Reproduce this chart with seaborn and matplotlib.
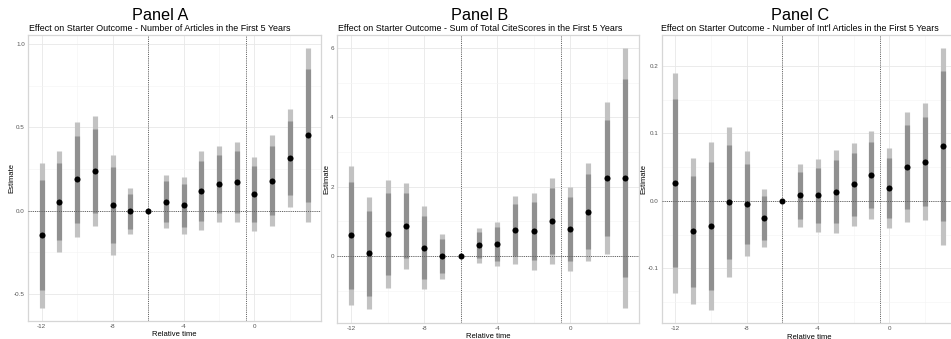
import numpy as np
import pandas as pd
import matplotlib
matplotlib.use("Agg")
import matplotlib.pyplot as plt
from matplotlib.ticker import FixedLocator, FormatStrFormatter
import seaborn as sns

# Event-study estimates by year relative to the event (reference year -6)
relative_time = [-12, -11, -10, -9, -8, -7, -6, -5, -4, -3, -2, -1, 0, 1, 2, 3]
x_ticks = [-12, -8, -4, 0]

est_articles = [-0.148, 0.054, 0.188, 0.238, 0.035, -0.003, 0.0, 0.055,
                0.032, 0.120, 0.160, 0.172, 0.100, 0.181, 0.315, 0.453]
se_articles = [0.168, 0.118, 0.134, 0.129, 0.116, 0.054, 0.0, 0.062,
               0.066, 0.092, 0.089, 0.094, 0.087, 0.106, 0.114, 0.203]

est_citescores = [0.595, 0.080, 0.640, 0.877, 0.245, -0.010, 0.0, 0.310,
                  0.350, 0.758, 0.710, 1.012, 0.772, 1.276, 2.260, 2.257]
se_citescores = [0.783, 0.628, 0.608, 0.481, 0.462, 0.250, 0.0, 0.193,
                 0.249, 0.383, 0.427, 0.482, 0.469, 0.550, 0.851, 1.458]

est_intl = [0.0265, -0.0448, -0.0370, -0.0016, -0.0046, -0.0258, 0.0, 0.0080,
            0.0080, 0.0138, 0.0245, 0.0386, 0.0190, 0.0500, 0.0580, 0.0810]
se_intl = [0.0633, 0.0420, 0.0484, 0.0430, 0.0302, 0.0168, 0.0, 0.0180,
           0.0210, 0.0238, 0.0239, 0.0252, 0.0230, 0.0316, 0.0337, 0.0566]

panel_titles = ["Panel A", "Panel B", "Panel C"]
panel_subtitles = [
    "Effect on Starter Outcome - Number of Articles in the First 5 Years",
    "Effect on Starter Outcome - Sum of Total CiteScores in the First 5 Years",
    "Effect on Starter Outcome - Number of Int'l Articles in the First 5 Years",
]
y_major = [[-0.5, 0.0, 0.5, 1.0], [0, 2, 4, 6], [-0.1, 0.0, 0.1, 0.2]]
y_minor = [[-0.25, 0.25, 0.75], [-1, 1, 3, 5], [-0.15, -0.05, 0.05, 0.15]]
y_fmt = ["%.1f", "%d", "%.1f"]

Z95, Z99 = 1.96, 2.576

W, H = 951, 339
sns.set_theme(style="white")
plt.rcParams["font.family"] = ["Liberation Sans", "DejaVu Sans"]
plt.rcParams["axes.unicode_minus"] = False

fig = plt.figure(figsize=(W / 100, H / 100), dpi=100)

# panel boxes in pixels: left, right, top, bottom
boxes = [(28.3, 321.0, 35.0, 320.5), (337.3, 638.7, 34.5, 322.5), (662.0, 956.0, 34.8, 323.0)]
title_x = [160, 480, 800]
ylabel_x = [11.5, 327, 644]

series = [(est_articles, se_articles), (est_citescores, se_citescores), (est_intl, se_intl)]

for i, ((est, se), (l, r, t, b)) in enumerate(zip(series, boxes)):
    ax = fig.add_axes([l / W, 1 - b / H, (r - l) / W, (b - t) / H])
    df = pd.DataFrame({"time": relative_time, "est": est, "se": se})
    df["lo95"] = df.est - Z95 * df.se
    df["hi95"] = df.est + Z95 * df.se
    df["lo99"] = df.est - Z99 * df.se
    df["hi99"] = df.est + Z99 * df.se
    bars = df[df.se > 0]

    ax.vlines(bars.time, bars.lo99, bars.hi99, color="#c2c2c2", lw=3.7, zorder=2)
    ax.vlines(bars.time, bars.lo95, bars.hi95, color="#909090", lw=3.7, zorder=3)
    ax.axhline(0, color="#5a5a5a", lw=0.65, ls=(0, (1.2, 1.2)), zorder=4)
    for xv in (-6, -0.5):
        ax.axvline(xv, color="#5a5a5a", lw=0.65, ls=(0, (1.2, 1.2)), zorder=4)
    sns.scatterplot(data=df, x="time", y="est", ax=ax, color="black", s=19,
                    linewidth=0, zorder=5, legend=False)

    lo, hi = df.lo99.min(), df.hi99.max()
    pad = 0.05 * (hi - lo)
    ax.set_ylim(lo - pad, hi + pad)
    ax.set_xlim(-12.75, 3.75)

    ax.xaxis.set_major_locator(FixedLocator(x_ticks))
    ax.xaxis.set_minor_locator(FixedLocator([-10, -6, -2, 2]))
    ax.yaxis.set_major_locator(FixedLocator(y_major[i]))
    ax.yaxis.set_minor_locator(FixedLocator(y_minor[i]))
    ax.yaxis.set_major_formatter(FormatStrFormatter(y_fmt[i]))
    ax.grid(which="major", color="#e8e8e8", lw=0.6, zorder=0)
    ax.grid(which="minor", color="#f4f4f4", lw=0.4, zorder=0)
    ax.set_axisbelow(True)
    ax.tick_params(which="both", length=0, labelsize=4.5, labelcolor="#555555", pad=2.5)
    for sp in ax.spines.values():
        sp.set_visible(True)
        sp.set_color("#d6d6d6")
        sp.set_linewidth(0.9)

    ax.set_xlabel("Relative time", fontsize=5.5, labelpad=1.5, color="black")
    ax.set_ylabel("")
    fig.text(ylabel_x[i] / W, 1 - ((t + b) / 2) / H, "Estimate", rotation=90,
             ha="center", va="center", fontsize=5.5, color="black")
    fig.text(title_x[i] / W, 1 - 19.5 / H, panel_titles[i], ha="center",
             va="baseline", fontsize=11.7, color="black")
    fig.text(title_x[i] / W, 1 - 30.7 / H, panel_subtitles[i], ha="center",
             va="baseline", fontsize=6.4, color="black")

fig.savefig("out.png", dpi=100, facecolor="white")
